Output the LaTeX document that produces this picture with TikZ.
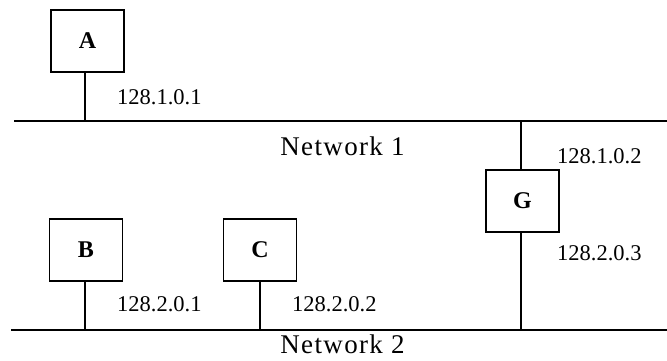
\documentclass[tikz,border=0pt]{standalone}
\usepackage{fontspec}
\newfontfamily\tnr{Liberation Serif}
\newfontfamily\tnrwide[LetterSpace=5]{Liberation Serif}
\begin{document}
\begin{tikzpicture}[x=1pt,y=-1pt,
  host/.style={draw,line width=1.8pt,minimum width=73pt,minimum height=62pt,inner sep=0pt,font=\tnr\fontsize{24}{24}\selectfont\bfseries},
  wire/.style={line width=2pt},
  addr/.style={anchor=base west,inner sep=0pt,font=\tnr\fontsize{22.5}{22.5}\selectfont},
  netlbl/.style={inner sep=0pt,font=\tnrwide\fontsize{27}{27}\selectfont}]
\useasboundingbox (0,0) rectangle (667,360);
\node[host] (A) at (87.5,41) {A};
\node[host] (B) at (86,250) {B};
\node[host] (C) at (260,250) {C};
\node[host] (G) at (522.5,201) {G};
\coordinate (n1l) at (14,121);
\coordinate (n1r) at (667,121);
\coordinate (n2l) at (11,330);
\coordinate (n2r) at (667,330);
\draw[wire] (n1l) -- (n1r);
\draw[wire] (n2l) -- (n2r);
\coordinate (a0) at ([xshift=-2.5pt]A.south);
\coordinate (b0) at ([xshift=-1pt]B.south);
\coordinate (g0) at ([xshift=-1.5pt]G.north);
\coordinate (g3) at ([xshift=-1.5pt]G.south);
\coordinate (a1) at (a0 |- n1l);
\coordinate (b1) at (b0 |- n2l);
\coordinate (c1) at (C.south |- n2l);
\coordinate (g1) at (g0 |- n1l);
\coordinate (g2) at (g3 |- n2l);
\draw[wire] (a0) -- (a1);
\draw[wire] (b0) -- (b1);
\draw[wire] (C.south) -- (c1);
\draw[wire] (g0) -- (g1);
\draw[wire] (g3) -- (g2);
\node[addr] (la) at (117,104) {128.1.0.1};
\node[addr] (lb) at (117,311) {128.2.0.1};
\node[addr] (lc) at (292,311) {128.2.0.2};
\node[addr] (lg1) at (557,163) {128.1.0.2};
\node[addr] (lg2) at (557,260) {128.2.0.3};
\node[netlbl] (N1) at (342.5,146) {Network 1};
\node[netlbl] (N2) at (342.5,344) {Network 2};
\end{tikzpicture}
\end{document}
